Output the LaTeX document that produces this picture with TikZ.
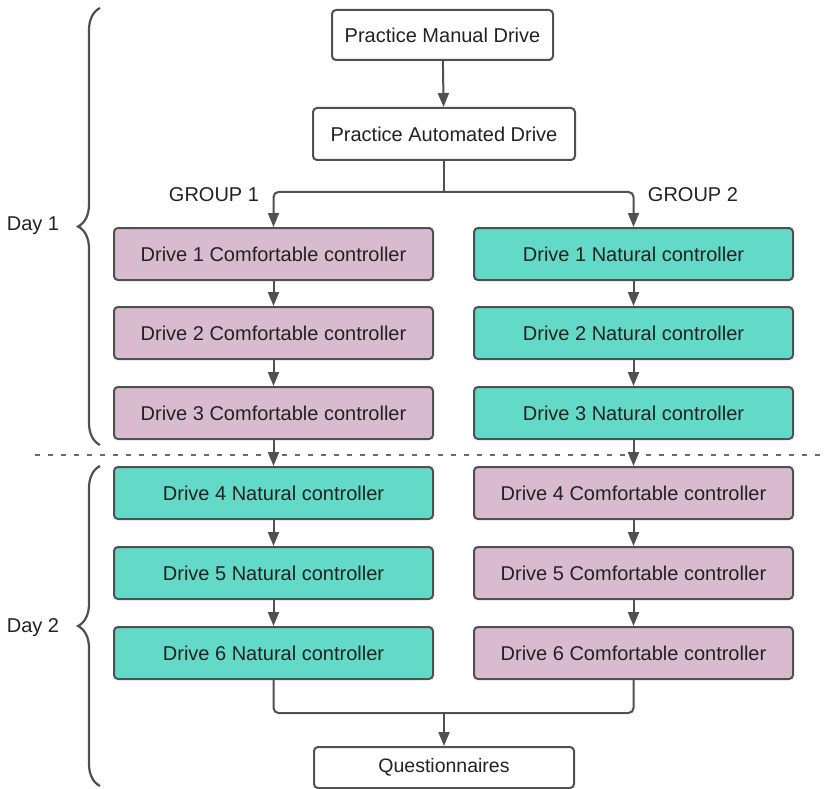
\documentclass[tikz,border=0pt]{standalone}
\usepackage{fontspec}
\setmainfont{Liberation Sans}
\usetikzlibrary{arrows.meta,decorations.pathreplacing}
\definecolor{pinkc}{HTML}{D9BBCF}
\definecolor{tealc}{HTML}{63D9C8}
\definecolor{edgec}{HTML}{505050}
\definecolor{txtc}{HTML}{222222}
\begin{document}
\begin{tikzpicture}[x=1pt,y=-1pt,
  base/.style={draw=edgec, line width=2pt, rounded corners=4pt, inner sep=0pt, text=txtc, font=\fontsize{20}{24}\selectfont},
  box/.style={base, minimum width=319pt, minimum height=52pt},
  pinkbox/.style={box, fill=pinkc},
  tealbox/.style={box, fill=tealc},
  whitebox/.style={base, fill=white},
  arr/.style={draw=edgec, line width=2pt, -{Triangle[width=11pt,length=14pt]}},
  conn/.style={draw=edgec, line width=2pt, rounded corners=5pt},
  lbl/.style={text=txtc, font=\fontsize{20}{24}\selectfont},
  bracestyle/.style={draw=edgec, line width=2.2pt, decorate, decoration={brace, amplitude=22pt}}
]
\useasboundingbox (0,0) rectangle (825,789);
\fill[white] (0,0) rectangle (825,789);

% separator
\draw[draw=edgec!85, line width=2.5pt, dash pattern=on 5pt off 8pt] (35,455) -- (825,455);

% top boxes
\node[whitebox, minimum width=221pt, minimum height=50pt] (pm) at (442.5,35) {Practice Manual Drive};
\node[whitebox, minimum width=262pt, minimum height=52pt] (pa) at (444,134) {Practice Automated Drive};

% left column
\node[pinkbox] (l1) at (273.5,254) {Drive 1 Comfortable controller};
\node[pinkbox] (l2) at (273.5,333) {Drive 2 Comfortable controller};
\node[pinkbox] (l3) at (273.5,413) {Drive 3 Comfortable controller};
\node[tealbox] (l4) at (273.5,493) {Drive 4 Natural controller};
\node[tealbox] (l5) at (273.5,573) {Drive 5 Natural controller};
\node[tealbox] (l6) at (273.5,653) {Drive 6 Natural controller};

% right column
\node[tealbox] (r1) at (633.5,254) {Drive 1 Natural controller};
\node[tealbox] (r2) at (633.5,333) {Drive 2 Natural controller};
\node[tealbox] (r3) at (633.5,413) {Drive 3 Natural controller};
\node[pinkbox] (r4) at (633.5,493) {Drive 4 Comfortable controller};
\node[pinkbox] (r5) at (633.5,573) {Drive 5 Comfortable controller};
\node[pinkbox] (r6) at (633.5,653) {Drive 6 Comfortable controller};

\node[whitebox, minimum width=260pt, minimum height=41pt, font=\fontsize{19.5}{23}\selectfont] (q) at (444,767.5) {Questionnaires};

% group labels
\node[lbl] (g1) at (214,195) {GROUP 1};
\node[lbl] (g2) at (693,195) {GROUP 2};

% day labels
\node[lbl] (d1) at (33,226) {Day 1};
\node[lbl] (d2) at (33,628) {Day 2};

% braces
\draw[bracestyle] (100,445) -- (100,8);
\draw[bracestyle] (100,786) -- (100,466);

% connectors
\draw[arr] (pm) -- (pa);
\coordinate (split) at (444,192);
\draw[conn] (pa.south) -- (split);
\draw[conn, arr] (split) -| (l1.north);
\draw[conn, arr] (split) -| (r1.north);

\foreach \a/\b in {l1/l2,l2/l3,l3/l4,l4/l5,l5/l6,r1/r2,r2/r3,r3/r4,r4/r5,r5/r6}{
  \draw[arr] (\a) -- (\b);
}

\coordinate (merge) at (444,713);
\draw[conn] (l6.south) |- (merge) -| (r6.south);
\draw[arr] (merge) -- (q);
\end{tikzpicture}
\end{document}
